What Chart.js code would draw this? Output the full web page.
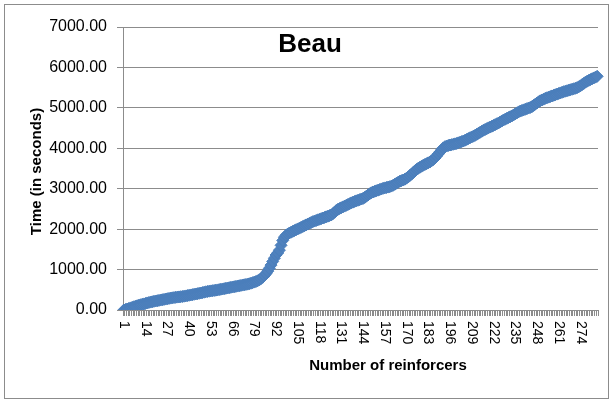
<!DOCTYPE html>
<html>
<head>
<meta charset="utf-8">
<script src="https://cdn.jsdelivr.net/npm/chart.js@4/dist/chart.umd.min.js"></script>
<style>
  html, body { margin: 0; padding: 0; background: #fff; }
  #wrap { position: relative; width: 614px; height: 401px; }
</style>
</head>
<body>
<div id="wrap"><canvas id="c" width="614" height="401"></canvas></div>
<script>
// ---- data ----
const chartTitle = 'Beau';
const xTitle = 'Number of reinforcers';
const yTitle = 'Time (in seconds)';

const categoryCount = 284;
const categories = [];
for (let i = 1; i <= categoryCount; i++) categories.push(String(i));

const tickLabels = ['1','14','27','40','53','66','79','92','105','118','131','144','157','170','183','196','209','222','235','248','261','274'];

const yTicks = [0, 1000, 2000, 3000, 4000, 5000, 6000, 7000];

const timeSeconds = [
  0, 12, 25, 40, 52, 66, 80, 95, 106, 118,
  130, 142, 151, 163, 175, 186, 195, 204, 214, 222,
  230, 238, 246, 254, 262, 270, 279, 287, 294, 301,
  307, 313, 319, 324, 329, 334, 341, 348, 356, 364,
  372, 380, 388, 396, 404, 412, 420, 430, 440, 450,
  458, 465, 472, 478, 484, 490, 497, 504, 512, 520,
  528, 536, 544, 552, 560, 568, 576, 584, 592, 600,
  608, 616, 624, 632, 640, 650, 662, 676, 690, 705,
  722, 745, 775, 810, 850, 900, 960, 1030, 1110, 1200,
  1280, 1360, 1410, 1480, 1600, 1720, 1800, 1850, 1880, 1905,
  1925, 1945, 1965, 1985, 2005, 2025, 2045, 2065, 2085, 2105,
  2125, 2145, 2165, 2185, 2200, 2215, 2230, 2245, 2260, 2275,
  2290, 2305, 2320, 2335, 2350, 2380, 2420, 2460, 2490, 2510,
  2530, 2550, 2570, 2590, 2610, 2630, 2650, 2668, 2685, 2700,
  2715, 2730, 2745, 2760, 2785, 2815, 2845, 2875, 2900, 2920,
  2935, 2950, 2965, 2980, 2995, 3010, 3020, 3030, 3040, 3050,
  3065, 3085, 3110, 3135, 3160, 3185, 3200, 3215, 3235, 3260,
  3290, 3325, 3360, 3400, 3440, 3475, 3505, 3530, 3555, 3580,
  3600, 3620, 3640, 3660, 3690, 3720, 3760, 3810, 3860, 3910,
  3960, 4010, 4040, 4055, 4070, 4080, 4090, 4100, 4110, 4120,
  4135, 4150, 4165, 4180, 4200, 4220, 4240, 4260, 4280, 4300,
  4320, 4345, 4370, 4395, 4420, 4445, 4465, 4485, 4505, 4525,
  4545, 4565, 4585, 4605, 4625, 4650, 4675, 4700, 4720, 4740,
  4760, 4780, 4800, 4825, 4850, 4875, 4900, 4920, 4935, 4950,
  4965, 4980, 4995, 5010, 5030, 5060, 5090, 5120, 5150, 5175,
  5195, 5215, 5235, 5250, 5265, 5280, 5295, 5310, 5325, 5340,
  5355, 5370, 5385, 5400, 5412, 5424, 5436, 5448, 5460, 5472,
  5484, 5500, 5520, 5545, 5575, 5605, 5635, 5660, 5680, 5700,
  5720, 5740, 5760, 5780
];

// ---- styles ----
const FONT = '"Liberation Sans", Arial, sans-serif';
const GRID = '#8c8c8c';
const TICKMARK = '#8c8c8c';
const BLUE = '#4A7EBB';
const BLUE_FILL = '#4F81BD';

const decorPlugin = {
  id: 'decor',
  afterDraw(chart) {
    const { ctx, chartArea, scales } = chart;
    const xs = scales.x;
    ctx.save();

    // category boundary tick marks below the x axis
    ctx.strokeStyle = TICKMARK;
    ctx.lineWidth = 1;
    const base = chartArea.bottom;
    for (let i = 0; i <= categories.length; i++) {
      const edge = xs.getPixelForValue(i - 0.5);
      if (!isFinite(edge)) continue;
      const px = Math.floor(edge) + 0.5;
      ctx.beginPath();
      ctx.moveTo(px, base + 1);
      ctx.lineTo(px, base + 6);
      ctx.stroke();
    }

    // outer frame
    ctx.strokeStyle = GRID;
    ctx.strokeRect(4.5, 4.5, 604, 394);

    // x tick labels (rotated clockwise, reading top to bottom)
    ctx.fillStyle = '#000';
    ctx.font = '14px ' + FONT;
    ctx.textAlign = 'left';
    ctx.textBaseline = 'middle';
    tickLabels.forEach(lbl => {
      const idx = categories.indexOf(lbl);
      if (idx < 0) return;
      const px = xs.getPixelForTick(idx);
      ctx.save();
      ctx.translate(px, chartArea.bottom + 11);
      ctx.rotate(Math.PI / 2);
      ctx.fillText(lbl, 0, 0);
      ctx.restore();
    });

    // axis titles
    ctx.font = 'bold 15px ' + FONT;
    ctx.textAlign = 'center';
    ctx.textBaseline = 'middle';
    ctx.fillText(xTitle, chartArea.left + 265, chartArea.bottom + 56);
    ctx.save();
    ctx.translate(36.5, (chartArea.top + chartArea.bottom) / 2 + 3);
    ctx.rotate(-Math.PI / 2);
    ctx.fillText(yTitle, 0, 0);
    ctx.restore();

    // chart title (inside plot area)
    ctx.font = 'bold 26px ' + FONT;
    ctx.textAlign = 'center';
    ctx.textBaseline = 'alphabetic';
    ctx.fillText(chartTitle, chartArea.left + 187, chartArea.top + 25);
    ctx.restore();
  }
};

new Chart(document.getElementById('c'), {
  type: 'line',
  data: {
    labels: categories,
    datasets: [{
      label: 'Time',
      data: timeSeconds,
      borderColor: BLUE,
      backgroundColor: BLUE_FILL,
      borderWidth: 4,
      pointStyle: 'rectRot',
      pointRadius: 6,
      pointBorderWidth: 1,
      pointBorderColor: BLUE,
      pointBackgroundColor: BLUE_FILL,
      tension: 0,
      fill: false
    }]
  },
  options: {
    responsive: false,
    animation: false,
    devicePixelRatio: 1,
    layout: { padding: { top: 27, right: 16, left: 0, bottom: 0 } },
    plugins: {
      legend: { display: false },
      title: { display: false },
      tooltip: { enabled: false }
    },
    scales: {
      x: {
        type: 'category',
        offset: true,
        grid: { display: false },
        border: { display: true, color: GRID, width: 1 },
        ticks: { display: false, autoSkip: false },
        afterFit(scale) { scale.height = 91; }
      },
      y: {
        min: 0,
        max: 7000,
        afterBuildTicks(scale) { scale.ticks = yTicks.map(v => ({ value: v })); },
        grid: {
          color: GRID,
          lineWidth: 1,
          drawTicks: true,
          tickLength: 6
        },
        border: { display: true, color: GRID, width: 1 },
        ticks: {
          padding: 10,
          color: '#000',
          font: { family: FONT, size: 16 },
          callback: v => Number(v).toFixed(2)
        },
        afterFit(scale) { scale.width = 123; }
      }
    }
  },
  plugins: [decorPlugin]
});
</script>
</body>
</html>
